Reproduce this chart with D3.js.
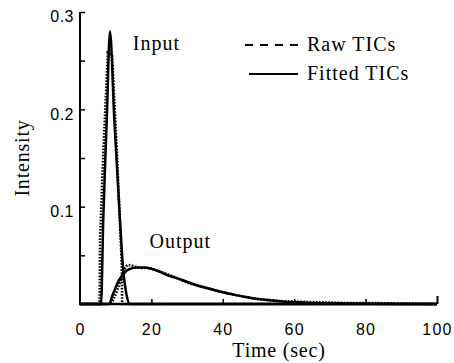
<!DOCTYPE html>
<html><head><meta charset="utf-8">
<script src="https://cdn.jsdelivr.net/npm/d3@7"></script>
<style>
html,body{margin:0;padding:0;background:#fff;}
svg{display:block;}
</style></head>
<body>
<script>
// ---- data ----
const xTicks = [0, 20, 40, 60, 80, 100];
const yTickLabels = [0.1, 0.2, 0.3];
const yMinorTicks = [0.05, 0.1, 0.15, 0.2, 0.25, 0.3];
const xMinorTicks = [20, 40, 60, 80, 100];

// Fitted input TIC (time sec, intensity)
const fittedInputT = [0, 5, 5.9, 6.5, 7.5, 8.4, 9.6, 11.2, 12.1, 13, 14, 20, 100];
const fittedInputV = [0, 0, 0, 0.085, 0.19, 0.28, 0.19, 0.086, 0.035, 0.01, 0, 0, 0];

// Raw input TIC
const rawInputT = [0, 5.5, 5.6, 6.6, 7.8, 9.0, 10.4, 11.7, 11.8, 100];
const rawInputV = [0, 0, 0.066, 0.16, 0.258, 0.255, 0.15, 0.04, 0, 0];

// Fitted output TIC
const fittedOutputT = [0, 8.2, 9, 10, 11, 12, 13, 14, 16, 18, 20, 22.4, 25, 28.6, 32, 36, 40, 42.6, 46, 50, 54, 57.6, 62, 66, 70, 80, 90, 100];
const fittedOutputV = [0, 0, 0.008, 0.017, 0.025, 0.03, 0.034, 0.036, 0.0375, 0.0375, 0.0362, 0.033, 0.029, 0.0247, 0.02, 0.016, 0.012, 0.010, 0.0075, 0.005, 0.0035, 0.0024, 0.0016, 0.001, 0.0007, 0.0003, 0.0001, 0];

// Raw output TIC
const rawOutputT = [0, 8.5, 9.5, 10.5, 11.5, 12.5, 13.5, 15, 17, 19, 21, 24, 27, 30, 33, 36, 40, 44, 48, 52, 56, 60, 65, 70, 75, 80, 90, 100];
const rawOutputV = [0, 0, 0.006, 0.015, 0.026, 0.036, 0.04, 0.039, 0.037, 0.037, 0.035, 0.031, 0.027, 0.022, 0.019, 0.016, 0.012, 0.009, 0.006, 0.0045, 0.003, 0.0025, 0.002, 0.0015, 0.001, 0.001, 0.0005, 0];

const legendLabels = ["Raw TICs", "Fitted TICs"];
const annotations = [{text: "Input", t: 14.8, v: 0.261}, {text: "Output", t: 19.5, v: 0.058}];

// ---- chart ----
const W = 454, H = 363;
const svg = d3.select("body").append("svg").attr("width", W).attr("height", H);
const x = d3.scaleLinear().domain([0, 100]).range([80, 437]);
const y = d3.scaleLinear().domain([0, 0.3]).range([304, 12]);

const serif = "'Liberation Serif', 'DejaVu Serif', serif";
const sans = "'Liberation Sans', Arial, sans-serif";

const zip = (T, V) => T.map((t, i) => [t, V[i]]);
const line = d3.line().x(d => x(d[0])).y(d => y(d[1]));
const smooth = d3.line().x(d => x(d[0])).y(d => y(d[1])).curve(d3.curveMonotoneX);

// raw (dotted)
svg.append("path").datum(zip(rawInputT, rawInputV)).attr("d", line)
  .attr("fill", "none").attr("stroke", "#000").attr("stroke-width", 2.6).attr("stroke-dasharray", "1.6,1.5");
svg.append("path").datum(zip(rawOutputT, rawOutputV)).attr("d", smooth)
  .attr("fill", "none").attr("stroke", "#000").attr("stroke-width", 2.6).attr("stroke-dasharray", "1.6,1.5");

// fitted (solid)
svg.append("path").datum(zip(fittedInputT, fittedInputV)).attr("d", smooth)
  .attr("fill", "none").attr("stroke", "#000").attr("stroke-width", 2.5).attr("stroke-linejoin", "round");
svg.append("path").datum(zip(fittedOutputT, fittedOutputV)).attr("d", smooth)
  .attr("fill", "none").attr("stroke", "#000").attr("stroke-width", 2.5);

// axes
const xAxis = svg.append("g").attr("transform", `translate(0,${y(0)})`)
  .call(d3.axisBottom(x).tickValues(xTicks).tickSize(0).tickPadding(20).tickFormat(d3.format("d")));
xAxis.select(".domain").remove();
xAxis.selectAll("text").attr("font-family", sans).attr("font-size", 16).attr("letter-spacing", 1.2).attr("fill", "#000");
const xMinor = svg.append("g").attr("transform", `translate(0,${y(0)})`)
  .call(d3.axisTop(x).tickValues(xMinorTicks).tickSize(5).tickFormat(""));
xMinor.select(".domain").remove();
xMinor.selectAll("line").attr("stroke-width", 1.5);
xMinor.selectAll("line").filter(d => d === 100).attr("y2", -8).attr("stroke-width", 2);

const yAxis = svg.append("g").attr("transform", `translate(${x(0)},0)`)
  .call(d3.axisLeft(y).tickValues(yTickLabels).tickSize(0).tickPadding(6).tickFormat(d3.format(".1f")));
yAxis.select(".domain").remove();
yAxis.selectAll("text").attr("font-family", sans).attr("font-size", 16).attr("letter-spacing", 0.5).attr("dy", "0.62em").attr("fill", "#000");
const yMinor = svg.append("g").attr("transform", `translate(${x(0)},0)`)
  .call(d3.axisRight(y).tickValues(yMinorTicks).tickSize(5).tickFormat(""));
yMinor.select(".domain").remove();
yMinor.selectAll("line").attr("stroke-width", 1.5);

svg.append("line").attr("x1", x(0)).attr("x2", x(0)).attr("y1", y(0.3)).attr("y2", y(0) + 1)
  .attr("stroke", "#000").attr("stroke-width", 2);
svg.append("line").attr("x1", x(0) - 1).attr("x2", x(100)).attr("y1", y(0)).attr("y2", y(0))
  .attr("stroke", "#000").attr("stroke-width", 2.4);

// labels
svg.append("text").attr("x", 279).attr("y", 357).attr("text-anchor", "middle")
  .attr("font-family", serif).attr("font-size", 20).attr("letter-spacing", 0.8).text("Time (sec)");
svg.append("text").attr("transform", "translate(29,158) rotate(-90)").attr("text-anchor", "middle")
  .attr("font-family", serif).attr("font-size", 20).attr("letter-spacing", 0.8).text("Intensity");

annotations.forEach(a => {
  svg.append("text").attr("x", x(a.t)).attr("y", y(a.v)).attr("font-family", serif)
    .attr("font-size", 20).attr("letter-spacing", 1).text(a.text);
});

// legend
const lg = svg.append("g");
lg.append("line").attr("x1", 245).attr("x2", 298).attr("y1", 45).attr("y2", 45)
  .attr("stroke", "#000").attr("stroke-width", 2.2).attr("stroke-dasharray", "8,7");
lg.append("line").attr("x1", 249).attr("x2", 298).attr("y1", 74).attr("y2", 74)
  .attr("stroke", "#000").attr("stroke-width", 2.2);
lg.append("text").attr("x", 307).attr("y", 51).attr("font-family", serif).attr("font-size", 20).attr("letter-spacing", 1).text(legendLabels[0]);
lg.append("text").attr("x", 307).attr("y", 80).attr("font-family", serif).attr("font-size", 20).attr("letter-spacing", 1).text(legendLabels[1]);
</script>
</body></html>
